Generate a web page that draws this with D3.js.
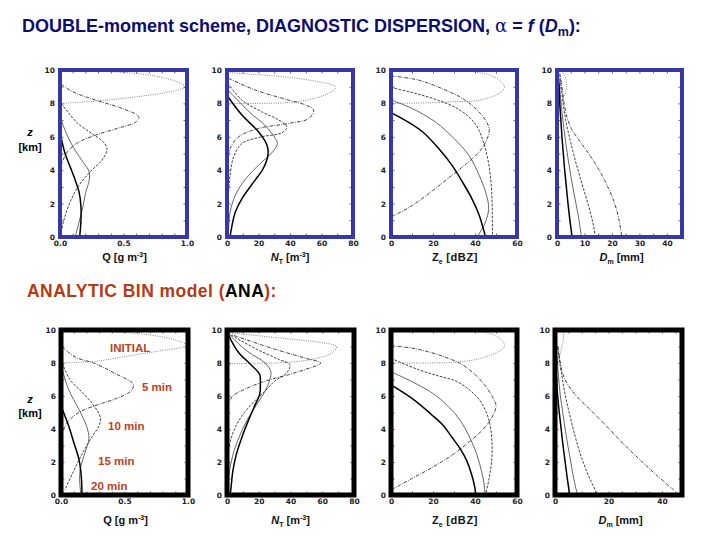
<!DOCTYPE html>
<html>
<head>
<meta charset="utf-8">
<script src="https://cdn.jsdelivr.net/npm/d3@7"></script>
<style>
  body { margin: 0; background: #fff; }
  svg { font-family: "Liberation Sans", Arial, sans-serif; }
</style>
</head>
<body>
<div id="chart"></div>
<script>
// the five model times, each panel holds one curve per time: [value, z in km]
const times = ["INITIAL", "5 min", "10 min", "15 min", "20 min"];

const zTicks = [0, 2, 4, 6, 8, 10];
const qTicks = [0, 0.5, 1];
const nTicks = [0, 20, 40, 60, 80];
const zeTicks = [0, 20, 40, 60];
const dmTicksTop = [0, 10, 20, 30, 40];
const dmTicksBottom = [0, 20, 40];

// ---- DOUBLE-moment scheme (top row)
const dblQ = [
  [[0.01, 8.0], [0.15, 8.07], [0.3, 8.15], [0.55, 8.35], [0.8, 8.6], [0.95, 8.85], [0.99, 9.0], [0.9, 9.35], [0.7, 9.7], [0.45, 9.88], [0.15, 9.97], [0.02, 10]],
  [[0.01, 9.15], [0.1, 8.7], [0.28, 8.2], [0.49, 7.7], [0.62, 7.2], [0.6, 6.9], [0.45, 6.5], [0.28, 6.1], [0.13, 5.6], [0.05, 5.0], [0.01, 4.3]],
  [[0.01, 8.0], [0.06, 7.5], [0.14, 6.8], [0.25, 6.2], [0.34, 5.7], [0.37, 5.3], [0.34, 4.7], [0.25, 4.0], [0.15, 3.1], [0.08, 2.1], [0.03, 1.0], [0.01, 0.3]],
  [[0.01, 7.0], [0.05, 6.2], [0.11, 5.3], [0.18, 4.5], [0.23, 3.9], [0.23, 3.4], [0.2, 2.6], [0.18, 1.8], [0.15, 0.9], [0.12, 0]],
  [[0.01, 5.9], [0.04, 5.0], [0.08, 4.2], [0.12, 3.4], [0.15, 2.7], [0.165, 1.8], [0.165, 1.0], [0.155, 0]]
];
const dblN = [
  [[0.5, 9.85], [15, 9.75], [35, 9.6], [55, 9.35], [68, 9.05], [69, 8.9], [62, 8.5], [48, 8.15], [35, 8.03], [23, 8.0], [2, 8.0]],
  [[1, 9.5], [18, 8.8], [39, 8.2], [50, 7.9], [55, 7.6], [52, 7.1], [39, 6.8], [20, 6.5], [7.4, 6.0], [2, 5.3], [0.6, 4.5]],
  [[0.6, 9.2], [9.5, 8.2], [22, 7.5], [33, 7.0], [38, 6.6], [35, 6.25], [22, 6.0], [9.5, 5.6], [4.2, 4.8], [2, 3.7], [1, 2.7], [0.6, 1.7]],
  [[0.6, 8.8], [14, 7.5], [24, 6.7], [30, 6.0], [32, 5.6], [29, 5.1], [20, 4.3], [12, 3.5], [5.3, 2.5], [2, 1.5], [1, 0.5]],
  [[0.6, 8.4], [9.5, 7.3], [20, 6.3], [25.4, 5.5], [26, 4.9], [23, 4.1], [17, 3.3], [9.5, 2.3], [5.3, 1.5], [3.2, 0.7], [2, 0.05]]
];
const dblZ = [
  [[1, 8.0], [12, 8.02], [22, 8.05], [30, 8.1], [40, 8.15], [48, 8.4], [53, 8.75], [54, 9.0], [52, 9.35], [47, 9.7], [40, 9.88], [33, 9.97]],
  [[0, 9.65], [13, 9.4], [24, 8.9], [34, 8.3], [41, 7.6], [45.5, 6.9], [46.8, 6.4], [45.5, 5.8], [42, 5.1], [36, 4.4], [28, 3.6], [18, 2.6], [9, 1.8], [0, 1.2]],
  [[0, 8.95], [10, 8.65], [21, 8.25], [30, 7.8], [37, 7.2], [41, 6.6], [44, 5.7], [46.5, 4.4], [47.8, 3.0], [48.2, 1.8], [48.3, 0]],
  [[0, 8.2], [10, 7.7], [21, 6.9], [30, 5.9], [37, 4.9], [42, 3.7], [45.5, 2.5], [46.5, 1.7], [45, 0.9], [42.5, 0.3], [41, 0]],
  [[0, 7.45], [8, 6.9], [15, 6.3], [22, 5.4], [29, 4.3], [34, 3.3], [38.5, 2.3], [42, 1.3], [45, 0]]
];
const dblD = [
  [[0.8, 9.95], [2, 9.85], [3.2, 9.5], [3.5, 9.0], [3, 8.6], [1.8, 8.2], [1, 8.0]],
  [[1, 9.8], [1.8, 9.0], [2.6, 8.0], [3.6, 7.2], [5.2, 6.5], [8, 5.8], [11.5, 5.0], [15, 4.1], [18.5, 3.0], [21, 2.0], [22.6, 1.0], [23.6, 0]],
  [[1, 9.7], [1.6, 8.8], [2.4, 7.8], [3.4, 6.8], [4.8, 5.8], [6.3, 4.8], [8, 3.8], [9.8, 2.8], [11.6, 1.8], [13, 0.9], [14, 0]],
  [[0.8, 9.5], [1.2, 8.5], [1.8, 7.5], [2.5, 6.5], [3.3, 5.5], [4.2, 4.5], [5.2, 3.5], [6.3, 2.5], [7.5, 1.5], [8.3, 0.7], [8.9, 0]],
  [[0.7, 9.2], [1, 8.0], [1.4, 7.0], [1.8, 6.0], [2.3, 5.0], [2.8, 4.0], [3.4, 3.0], [4, 2.0], [4.7, 1.0], [5.5, 0]]
];

// ---- ANALYTIC BIN model (bottom row)
const anaQ = [
  [[0.01, 8.0], [0.15, 8.05], [0.27, 8.1], [0.49, 8.37], [0.75, 8.7], [0.95, 8.95], [0.99, 9.08], [0.9, 9.4], [0.7, 9.7], [0.45, 9.88], [0.15, 9.97], [0.03, 10]],
  [[0.01, 8.98], [0.11, 8.37], [0.27, 7.96], [0.43, 7.35], [0.57, 6.7], [0.55, 6.3], [0.42, 5.8], [0.3, 5.5], [0.14, 5.0], [0.05, 4.4], [0.01, 3.8]],
  [[0.01, 8.0], [0.07, 7.0], [0.17, 6.2], [0.26, 5.4], [0.31, 4.7], [0.3, 4.2], [0.25, 3.6], [0.17, 2.55], [0.09, 1.3], [0.03, 0.3]],
  [[0.01, 7.6], [0.06, 6.4], [0.14, 5.2], [0.2, 4.2], [0.22, 3.4], [0.19, 2.6], [0.15, 1.5], [0.15, 0.5], [0.16, 0]],
  [[0.01, 5.2], [0.06, 4.2], [0.1, 3.2], [0.14, 2.2], [0.16, 1.1], [0.165, 0]]
];
const anaN = [
  [[0.5, 9.85], [20, 9.65], [45, 9.4], [62, 9.2], [69, 9.0], [66, 8.6], [55, 8.25], [35, 8.02], [15, 7.98], [1, 7.95]],
  [[0.4, 9.8], [28, 8.9], [49, 8.3], [59, 8.0], [49, 7.6], [39, 7.3], [24, 6.9], [11, 6.4], [3.6, 6.0], [0.8, 5.5]],
  [[0.4, 9.8], [19.5, 8.8], [33, 8.2], [39.7, 7.9], [37.6, 7.4], [30, 6.9], [24, 6.3], [17.4, 5.7], [11, 5.0], [5.7, 4.2], [2.5, 3.4], [0.8, 2.6]],
  [[0.4, 9.8], [13, 8.7], [24, 8.0], [27.6, 7.5], [27, 7.0], [24, 6.3], [19.5, 5.6], [13, 4.6], [8, 3.6], [3.6, 2.4], [1.5, 1.4], [0.4, 0.6]],
  [[0.4, 9.8], [6.8, 8.7], [15, 7.9], [20.6, 7.3], [21, 6.8], [20.6, 6.1], [17.4, 5.4], [13, 4.4], [9, 3.4], [5.7, 2.4], [3.6, 1.4], [2.5, 0.4], [2, 0.05]]
];
const anaZ = [
  [[1, 8.0], [15, 8.0], [30, 8.04], [40, 8.2], [47, 8.45], [52, 8.75], [54, 9.0], [53, 9.35], [49, 9.7], [42, 9.92], [36, 10]],
  [[0, 9.05], [10, 8.9], [20, 8.6], [28, 8.25], [34, 7.9], [40, 7.3], [45, 6.6], [48.5, 5.9], [50, 5.4], [48, 4.7], [44, 4.0], [38, 3.3], [30, 2.5], [20, 1.7], [10, 1.0], [0, 0.3]],
  [[0, 8.28], [13, 7.6], [23, 7.2], [31, 6.9], [38, 6.3], [43, 5.6], [46.5, 4.6], [48, 3.4], [48, 2.2], [46.7, 1.0], [45, 0]],
  [[0, 7.47], [10, 6.87], [21, 6.06], [30, 5.0], [35, 4.1], [38.5, 3.2], [41, 2.4], [43, 1.5], [44.3, 0.7], [44.8, 0]],
  [[0, 6.67], [10, 5.85], [19.5, 4.85], [25, 4.2], [29, 3.5], [33, 2.8], [36, 2.1], [38.5, 1.2], [40, 0.4], [40.3, 0]]
];
const anaD = [
  [[2.6, 10], [3.1, 9.8], [3, 9.3], [2.3, 8.8], [1.6, 8.3], [1.1, 8.0]],
  [[1.2, 9.0], [1.8, 8.2], [2.8, 7.4], [4.4, 6.8], [8, 6.0], [13, 5.2], [19.4, 4.15], [25.6, 3.1], [32, 2.1], [38, 1.2], [44.4, 0.3]],
  [[1, 8.9], [1.8, 8.0], [2.8, 7.0], [3.9, 6.0], [5.3, 5.0], [6.8, 4.0], [8.5, 3.0], [10.5, 2.0], [13, 1.0], [16, 0]],
  [[0.8, 8.4], [1.3, 7.2], [2, 6.0], [2.9, 5.0], [3.8, 4.0], [4.8, 3.0], [5.9, 2.0], [7, 1.0], [8.4, 0]],
  [[0.5, 7.2], [1, 6.0], [1.6, 5.0], [2.3, 4.0], [3, 3.0], [3.8, 2.0], [4.6, 1.0], [5.5, 0]]
];

// line style per time (dotted, dash-dot, dashed, thin, thick)
const styles = [
  { dash: "1,1.3", w: 0.8, c: "#666" },
  { dash: "3.5,1.3,0.8,1.3", w: 0.8, c: "#111" },
  { dash: "2.6,1.4", w: 0.8, c: "#111" },
  { dash: null, w: 0.75, c: "#333" },
  { dash: null, w: 1.5, c: "#000" }
];

const W = 720, H = 540;
const svg = d3.select("#chart").append("svg")
  .attr("width", W).attr("height", H)
  .attr("viewBox", `0 0 ${W} ${H}`);

const rows = [
  {
    top: 70, bottom: 237, frame: "#3737aa", fw: 4, labelY: 261,
    panels: [[60, 187], [227, 353], [391, 517], [557, 682]],
    data: [dblQ, dblN, dblZ, dblD],
    xdom: [[0, 1], [0, 80], [0, 60], [0, 45.5]],
    ticks: [qTicks, nTicks, zeTicks, dmTicksTop],
    minor: [0.1, 10, 10, 5]
  },
  {
    top: 330, bottom: 495, frame: "#000", fw: 5, labelY: 524,
    panels: [[61, 188], [227, 354], [391, 517], [555, 682]],
    data: [anaQ, anaN, anaZ, anaD],
    xdom: [[0, 1], [0, 80], [0, 60], [0, 47.5]],
    ticks: [qTicks, nTicks, zeTicks, dmTicksBottom],
    minor: [0.1, 10, 10, 5]
  }
];

const line = d3.line().curve(d3.curveCatmullRom.alpha(0.5));
let clipId = 0;

rows.forEach((row, ri) => {
  row.panels.forEach(([x0, x1], pi) => {
    const x = d3.scaleLinear().domain(row.xdom[pi]).range([x0, x1]);
    const y = d3.scaleLinear().domain([0, 10]).range([row.bottom, row.top]);
    const g = svg.append("g");

    const id = "clip" + (clipId++);
    svg.append("clipPath").attr("id", id).append("rect")
      .attr("x", x0).attr("y", row.top).attr("width", x1 - x0).attr("height", row.bottom - row.top);

    // curves
    const cg = g.append("g").attr("clip-path", `url(#${id})`);
    row.data[pi].forEach((pts, ti) => {
      const s = styles[ti];
      cg.append("path")
        .attr("d", line(pts.map(p => [x(p[0]), y(p[1])])))
        .attr("fill", "none")
        .attr("stroke", s.c)
        .attr("stroke-width", s.w)
        .attr("stroke-dasharray", s.dash);
    });

    const minorX = d3.range(row.xdom[pi][0], row.xdom[pi][1] + 1e-6, row.minor[pi]);
    const fmt = pi === 0 ? d3.format(".1f") : d3.format("d");

    // axes with inward ticks
    const axL = g.append("g").attr("transform", `translate(${x0},0)`)
      .call(d3.axisLeft(y).tickValues(d3.range(0, 11)).tickSize(-3.5).tickPadding(5)
        .tickFormat(d => zTicks.includes(d) ? d : ""));
    const axR = g.append("g").attr("transform", `translate(${x1},0)`)
      .call(d3.axisRight(y).tickValues(d3.range(0, 11)).tickSize(-3.5).tickFormat(""));
    const axB = g.append("g").attr("transform", `translate(0,${row.bottom})`)
      .call(d3.axisBottom(x).tickValues(minorX).tickSize(-3.5).tickPadding(4)
        .tickFormat(d => row.ticks[pi].some(t => Math.abs(t - d) < 1e-6) ? fmt(d) : ""));
    const axT = g.append("g").attr("transform", `translate(0,${row.top})`)
      .call(d3.axisTop(x).tickValues(minorX).tickSize(-3.5).tickFormat(""));

    [axL, axR, axB, axT].forEach(a => {
      a.select(".domain").remove();
      a.selectAll(".tick line").attr("stroke", "#222").attr("stroke-width", 0.7);
      a.selectAll("text").attr("font-size", 7.5).attr("font-weight", "bold").attr("fill", "#222")
        .attr("font-family", "'DejaVu Sans', sans-serif");
    });

    // frame
    g.append("rect")
      .attr("x", x0).attr("y", row.top)
      .attr("width", x1 - x0).attr("height", row.bottom - row.top)
      .attr("fill", "none").attr("stroke", row.frame).attr("stroke-width", row.fw);
  });

  // axis labels under each panel
  const cx = row.panels.map(([a, b]) => (a + b) / 2);
  const lab = (xc, parts) => {
    const t = svg.append("text").attr("x", xc).attr("y", row.labelY)
      .attr("text-anchor", "middle").attr("font-size", 11).attr("font-weight", "bold").attr("fill", "#111");
    parts.forEach(p => {
      const s = t.append("tspan").text(p.t);
      if (p.i) s.attr("font-style", "italic");
      if (p.sup) s.attr("font-size", 7).attr("dy", -4);
      if (p.sub) s.attr("font-size", 7).attr("dy", 2.5);
      if (p.back) s.attr("dy", p.back);
      if (p.ls) s.attr("letter-spacing", p.ls);
    });
  };
  lab(cx[0] + 1, [{ t: "Q [g m" }, { t: "-3", sup: true }, { t: "]", back: 4 }]);
  lab(cx[1], [{ t: "N", i: true }, { t: "T", sub: true }, { t: " [m", back: -2.5 }, { t: "-3", sup: true }, { t: "]", back: 4 }]);
  lab(cx[2] + 1, [{ t: "Z" }, { t: "e", sub: true }, { t: " [dBZ]", back: -2.5, ls: 0.6 }]);
  lab(cx[3] + 2, [{ t: "D", i: true }, { t: "m", sub: true }, { t: " [mm]", back: -2.5 }]);

  // z [km]
  const zy = ri === 0 ? [136, 151] : [403, 417];
  svg.append("text").attr("x", 30).attr("y", zy[0]).attr("text-anchor", "middle")
    .attr("font-size", 11).attr("font-weight", "bold").attr("font-style", "italic").text("z");
  svg.append("text").attr("x", 30).attr("y", zy[1]).attr("text-anchor", "middle")
    .attr("font-size", 11).attr("font-weight", "bold").text("[km]");
});

// time labels in the bottom-left panel
const timePos = [[110, 352], [142, 391], [108, 430], [98, 465], [91, 490]];
svg.append("g").selectAll("text").data(times).join("text")
  .attr("x", (d, i) => timePos[i][0]).attr("y", (d, i) => timePos[i][1])
  .attr("font-size", 11.5).attr("font-weight", "bold").attr("fill", "#c0401c")
  .text(d => d);

// headings
const title = svg.append("text").attr("x", 22).attr("y", 32)
  .attr("font-size", 18).attr("font-weight", "bold").attr("fill", "#0c0c6e");
title.append("tspan").text("DOUBLE-moment scheme, DIAGNOSTIC DISPERSION, ");
title.append("tspan").text("α").attr("font-weight", "normal").attr("font-family", "'DejaVu Serif', serif");
title.append("tspan").text(" = ");
title.append("tspan").text("f").attr("font-style", "italic");
title.append("tspan").text(" (");
title.append("tspan").text("D").attr("font-style", "italic");
title.append("tspan").text("m").attr("font-size", 12.5).attr("dy", 4);
title.append("tspan").text("):").attr("dy", -4);

const ana = svg.append("text").attr("x", 27).attr("y", 297)
  .attr("font-size", 17.5).attr("font-weight", "bold").attr("fill", "#b33a16")
  .attr("letter-spacing", 0.45);
ana.append("tspan").text("ANALYTIC BIN model (");
ana.append("tspan").text("ANA").attr("fill", "#000");
ana.append("tspan").text("):");
</script>
</body>
</html>
